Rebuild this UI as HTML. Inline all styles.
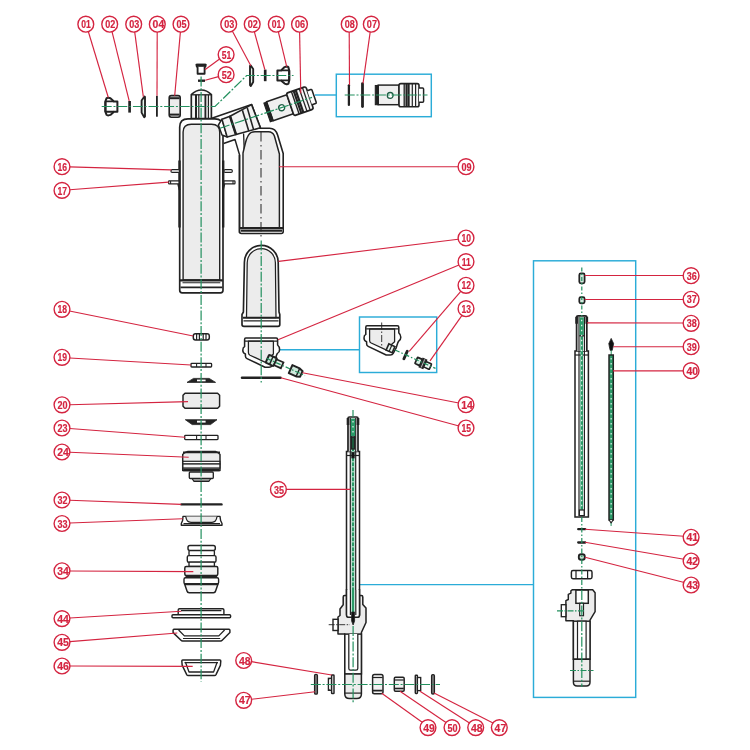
<!DOCTYPE html>
<html lang="en">
<head>
<meta charset="utf-8">
<title>Exploded parts diagram</title>
<style>
html,body{margin:0;padding:0;background:#fff;}
body{width:750px;height:750px;overflow:hidden;font-family:"Liberation Sans",sans-serif;}
svg{display:block;}
</style>
</head>
<body>
<svg width="750" height="750" viewBox="0 0 750 750" role="img" aria-label="Exploded parts diagram">
<rect x="0" y="0" width="750" height="750" fill="#ffffff"/>
<g id="cyan">
<rect x="336.3" y="74.2" width="95.0" height="42.5" rx="0" fill="none" stroke="#2bacd8" stroke-width="1.45" />
<line x1="315" y1="95" x2="336.3" y2="95" stroke="#2bacd8" stroke-width="1.45" />
<rect x="359.5" y="317" width="77.2" height="55.5" rx="0" fill="none" stroke="#2bacd8" stroke-width="1.45" />
<line x1="279.5" y1="349.7" x2="359.5" y2="349.7" stroke="#2bacd8" stroke-width="1.45" />
<rect x="533.5" y="260.8" width="102.2" height="436.6" rx="0" fill="none" stroke="#2bacd8" stroke-width="1.45" />
<line x1="357" y1="584.6" x2="533.5" y2="584.6" stroke="#2bacd8" stroke-width="1.45" />
</g>
<g id="tank">
<path d="M191.3,118.5 V94.6 Q196,90 201.4,90 Q206.8,90 211.4,94.6 V118.5 Z" fill="#f6f6f6" stroke="#222222" stroke-width="1.66" stroke-linejoin="round" />
<line x1="191.3" y1="94.8" x2="211.4" y2="94.8" stroke="#222222" stroke-width="1.33" />
<line x1="196" y1="94.8" x2="196" y2="118.5" stroke="#222222" stroke-width="2.0" />
<line x1="198.8" y1="94.8" x2="198.8" y2="118.5" stroke="#222222" stroke-width="1.2" />
<line x1="205.4" y1="94.8" x2="205.4" y2="118.5" stroke="#222222" stroke-width="1.86" />
<line x1="208.4" y1="94.8" x2="208.4" y2="118.5" stroke="#222222" stroke-width="1.2" />
<path d="M179.7,290.3 V127 Q179.7,118.8 188,118.8 H214.8 Q223,118.8 223,127 V290.3 Q223,292.9 220.5,292.9 H182.2 Q179.7,292.9 179.7,290.3 Z" fill="#ffffff" stroke="#222222" stroke-width="1.66" stroke-linejoin="round" />
<path d="M183.1,280 V132 Q183.1,124.2 191.3,124.2 H211.5 Q219.7,124.2 219.7,132 V280 Z" fill="#ececec" stroke="#222222" stroke-width="1.4" stroke-linejoin="round" />
<line x1="180" y1="280.4" x2="222.8" y2="280.4" stroke="#222222" stroke-width="2.13" />
<line x1="182.5" y1="282.8" x2="220.3" y2="282.8" stroke="#222222" stroke-width="1.06" />
<line x1="180.5" y1="287.4" x2="222.3" y2="287.4" stroke="#222222" stroke-width="1.86" />
<line x1="179.5" y1="160.5" x2="179.5" y2="227.5" stroke="#222222" stroke-width="2.39" />
<line x1="223.2" y1="160.5" x2="223.2" y2="227.5" stroke="#222222" stroke-width="2.39" />
<path d="M178,184 L179.6,190" fill="none" stroke="#222222" stroke-width="1.6" stroke-linejoin="round" />
<path d="M224.5,184 L223,190" fill="none" stroke="#222222" stroke-width="1.6" stroke-linejoin="round" />
<rect x="171" y="169.6" width="8.5" height="2.8" rx="1.2" fill="#fff" stroke="#222222" stroke-width="1.2" />
<rect x="168.6" y="180.9" width="10.4" height="3.0" rx="0.6" fill="#fff" stroke="#222222" stroke-width="1.2" />
<line x1="170.6" y1="180.9" x2="170.6" y2="183.9" stroke="#222222" stroke-width="1.06" />
<rect x="224" y="169.6" width="8.3" height="2.8" rx="1.2" fill="#fff" stroke="#222222" stroke-width="1.2" />
<rect x="224" y="180.9" width="11" height="3.0" rx="0.6" fill="#fff" stroke="#222222" stroke-width="1.2" />
<line x1="233" y1="180.9" x2="233" y2="183.9" stroke="#222222" stroke-width="1.06" />
</g>
<g id="bracket">
<path d="M211.8,118.2 L251.6,104.6 L260.4,127.8" fill="none" stroke="#222222" stroke-width="1.6" stroke-linejoin="round" />
<path d="M223.6,143.5 L235,139.5 L239.6,155 V233" fill="none" stroke="#222222" stroke-width="1.46" stroke-linejoin="round" />
<path d="M243.6,133.5 L244.2,149" fill="none" stroke="#222222" stroke-width="1.33" stroke-linejoin="round" />
</g>
<g id="tank09">
<path d="M239.4,155 V231.5 Q239.4,233.5 241.4,233.5 H281.2 Q283.2,233.5 283.2,231.5 V153.5 L277.6,135 Q275.6,128.2 269.5,128.2 H256 Q250,128.2 246.6,131.4" fill="none" stroke="#222222" stroke-width="1.6" stroke-linejoin="round" />
<path d="M243,228 V153 L245.4,143 Q247.6,134 251.4,132.4 Q252.8,131.8 255,131.8 H268.5 Q272.6,131.8 274.4,136 L279.4,154 V228 Z" fill="#ececec" stroke="#222222" stroke-width="1.46" stroke-linejoin="round" />
<line x1="240" y1="227.9" x2="283" y2="227.9" stroke="#222222" stroke-width="2.0" />
<line x1="241" y1="230.6" x2="282" y2="230.6" stroke="#222222" stroke-width="2.13" />
<line x1="261" y1="132" x2="261" y2="237.5" stroke="#222222" stroke-width="1" stroke-dasharray="9.5 3.5 1.5 3.5"/>
</g>
<g id="fitting">
<path d="M218.4,125 L222,119.2 L227.2,137 L222,135 Z" fill="#fff" stroke="#222222" stroke-width="1.46" stroke-linejoin="round" />
<path d="M222,119.2 L230,116.2 L236,134.6 L227.2,137 Z" fill="#f3f3f3" stroke="#222222" stroke-width="1.46" stroke-linejoin="round" />
<path d="M230,116.2 L251.6,104.6 L260.4,127.8 L236,134.6 Z" fill="#f3f3f3" stroke="#222222" stroke-width="1.6" stroke-linejoin="round" />
<line x1="230" y1="116.2" x2="236" y2="134.6" stroke="#222222" stroke-width="2.53" />
<line x1="242.4" y1="110.2" x2="248.8" y2="131" stroke="#222222" stroke-width="1.6" />
<line x1="247.2" y1="107.6" x2="253.6" y2="129.6" stroke="#222222" stroke-width="1.6" />
</g>
<g transform="translate(375,95.1) rotate(0) scale(1.0)">
<rect x="3.2" y="-10" width="20.8" height="19.6" rx="0" fill="#efefef" stroke="#222222" stroke-width="1.46" />
<rect x="0.3" y="-9.6" width="2.9" height="19.2" rx="0" fill="#222222" stroke="#222222" stroke-width="1.06" />
<rect x="24" y="-11.5" width="20" height="23.1" rx="1.8" fill="#f7f7f7" stroke="#222222" stroke-width="1.6" />
<line x1="29.2" y1="-11.5" x2="29.2" y2="11.6" stroke="#222222" stroke-width="1.33" />
<line x1="31.5" y1="-11.5" x2="31.5" y2="11.6" stroke="#222222" stroke-width="2.13" />
<line x1="33.6" y1="-11.5" x2="33.6" y2="11.6" stroke="#222222" stroke-width="2.13" />
<line x1="37.3" y1="-11.5" x2="37.3" y2="11.6" stroke="#222222" stroke-width="1.2" />
<line x1="40.6" y1="-11.5" x2="40.6" y2="11.6" stroke="#222222" stroke-width="1.2" />
<path d="M44,-7.2 H47.6 Q48.6,-7.2 48.6,-6.2 V6.2 Q48.6,7.2 47.6,7.2 H44" fill="#fff" stroke="#222222" stroke-width="1.46" stroke-linejoin="round" />
<circle cx="15.2" cy="0.3" r="2.9" fill="#fff" stroke="#1d5c43" stroke-width="1.3"/>
</g>
<g transform="translate(266.8,112.5) rotate(-19) scale(1.03)">
<rect x="3.2" y="-10" width="20.8" height="19.6" rx="0" fill="#efefef" stroke="#222222" stroke-width="1.46" />
<rect x="0.3" y="-9.6" width="2.9" height="19.2" rx="0" fill="#222222" stroke="#222222" stroke-width="1.06" />
<rect x="24" y="-11.5" width="20" height="23.1" rx="1.8" fill="#f7f7f7" stroke="#222222" stroke-width="1.6" />
<line x1="29.2" y1="-11.5" x2="29.2" y2="11.6" stroke="#222222" stroke-width="1.33" />
<line x1="31.5" y1="-11.5" x2="31.5" y2="11.6" stroke="#222222" stroke-width="2.13" />
<line x1="33.6" y1="-11.5" x2="33.6" y2="11.6" stroke="#222222" stroke-width="2.13" />
<line x1="37.3" y1="-11.5" x2="37.3" y2="11.6" stroke="#222222" stroke-width="1.2" />
<line x1="40.6" y1="-11.5" x2="40.6" y2="11.6" stroke="#222222" stroke-width="1.2" />
<path d="M44,-7.2 H47.6 Q48.6,-7.2 48.6,-6.2 V6.2 Q48.6,7.2 47.6,7.2 H44" fill="#fff" stroke="#222222" stroke-width="1.46" stroke-linejoin="round" />
<circle cx="15.2" cy="0.3" r="2.9" fill="#fff" stroke="#1d5c43" stroke-width="1.3"/>
</g>
<line x1="348.9" y1="85.3" x2="348.9" y2="104.9" stroke="#222222" stroke-width="2.26" stroke-linecap="round"/>
<line x1="362.5" y1="83.6" x2="362.5" y2="106.6" stroke="#222222" stroke-width="2.79" stroke-linecap="round"/>
<path d="M105.4,101.4 L106.6,98.2 Q107.2,97.6 108.4,97.7 L110.4,98.3 L114,101.4 H117.4 V111.8 H114 L110.4,114.9 L108.4,115.4 Q107.2,115.5 106.6,114.9 L105.4,111.8 Z" fill="#fff" stroke="#222222" stroke-width="2.0" stroke-linejoin="round" />
<path d="M105.4,101.4 H114 M105.4,111.8 H114" fill="none" stroke="#222222" stroke-width="1.86" stroke-linejoin="round" />
<line x1="105.4" y1="101.4" x2="105.4" y2="111.8" stroke="#222222" stroke-width="2.0" />
<line x1="129.6" y1="101" x2="129.6" y2="112.6" stroke="#222222" stroke-width="2.66" />
<path d="M144.4,96.4 L145,97 V116.6 L144.2,117.2 L141.6,112.6 V100.6 Z" fill="#e6f3ec" stroke="#222222" stroke-width="1.86" stroke-linejoin="round" />
<line x1="156.9" y1="95.8" x2="156.9" y2="116.7" stroke="#222222" stroke-width="1.86" />
<rect x="169.2" y="95.6" width="11.0" height="21.6" rx="2.2" fill="#ececec" stroke="#222222" stroke-width="1.6" />
<line x1="169.8" y1="98.2" x2="179.6" y2="98.2" stroke="#222222" stroke-width="2.0" />
<line x1="169.8" y1="114.6" x2="179.6" y2="114.6" stroke="#222222" stroke-width="2.0" />
<path d="M250.6,65.4 L250,66 V85.2 L250.8,86 L253.2,82 V69 Z" fill="#e6f3ec" stroke="#222222" stroke-width="1.86" stroke-linejoin="round" />
<line x1="265.2" y1="69.6" x2="265.2" y2="81.2" stroke="#222222" stroke-width="2.66" />
<path d="M289.2,70.4 L288.4,67.2 Q287.8,66.4 286.6,66.5 L284.6,67.1 L281,70.4 H277.4 V80.4 H281 L284.6,83.6 L286.6,84.3 Q287.8,84.4 288.4,83.7 L289.2,80.4 Z" fill="#fff" stroke="#222222" stroke-width="2.0" stroke-linejoin="round" />
<path d="M289.2,70.4 H281 M289.2,80.4 H281" fill="none" stroke="#222222" stroke-width="1.86" stroke-linejoin="round" />
<line x1="289.2" y1="70.4" x2="289.2" y2="80.4" stroke="#222222" stroke-width="2.0" />
<path d="M196.4,64.6 H205.8 L205.4,66.6 L204.6,67.4 V73.8 H197.6 V67.4 L196.8,66.6 Z" fill="#fff" stroke="#222222" stroke-width="1.86" stroke-linejoin="round" />
<line x1="196.6" y1="65.3" x2="205.6" y2="65.3" stroke="#222222" stroke-width="3.06" />
<line x1="198" y1="80.7" x2="205" y2="80.7" stroke="#222222" stroke-width="2.39" />
<g id="p10">
<path d="M242,324.5 Q242,326.4 244,326.4 H278 Q279.8,326.4 279.8,324.5 V314.5 L279,312 L278.2,262.3 A16.9,16.9 0 0 0 244.4,262.3 L243.4,312 L242,314.5 Z" fill="#fff" stroke="#222222" stroke-width="1.66" stroke-linejoin="round" />
<path d="M246.5,317.6 L247.2,262.8 A14.1,14.2 0 0 1 275.4,262.8 L276,317.6 Z" fill="#ececec" stroke="#222222" stroke-width="1.26" stroke-linejoin="round" />
<line x1="243" y1="317.8" x2="279" y2="317.8" stroke="#222222" stroke-width="2.0" />
<line x1="243.5" y1="320.8" x2="278.5" y2="320.8" stroke="#222222" stroke-width="1.33" />
</g>
<g transform="translate(244.4,338) scale(1.0)">
<path d="M1.4,0 H31.8 Q33.2,0 33.2,1.4 V7 Q35.2,8.6 35.2,11.5 Q35.2,14.4 33,15.4 L32.2,17 L30.6,22 L27.6,27.6 Q26.8,29.2 24.6,29.2 H20.6 L2.6,20.6 Q1,19.8 1,18 V16 Q-1.6,15 -1.6,12.2 Q-1.6,9.4 0.2,8.6 V1.4 Q0.2,0 1.4,0 Z" fill="#fff" stroke="#222222" stroke-width="1.53" stroke-linejoin="round" />
<path d="M4,3.2 H29 V16 L25,19.5 L21.5,24.6 L5.6,17.2 Q4,16.4 4,14.6 Z" fill="#ececec" stroke="#222222" stroke-width="1.26" stroke-linejoin="round" />
<line x1="0.6" y1="3.1" x2="32.8" y2="3.1" stroke="#222222" stroke-width="1.33" />
</g>
<g transform="translate(267.4,358.7) rotate(24.2)">
<rect x="0" y="-4.3" width="8.6" height="8.6" rx="0.8" fill="#cfe9dc" stroke="#222222" stroke-width="2.0" />
<line x1="4.3" y1="-4.3" x2="4.3" y2="4.3" stroke="#222222" stroke-width="1.46" />
<rect x="8.6" y="-3.2" width="7.6" height="6.4" rx="0" fill="#e6f3ec" stroke="#222222" stroke-width="1.73" />
</g>
<g transform="translate(290.6,369.1) rotate(24.2)">
<path d="M0,-4.4 H8 L11.8,-3 V3 L8,4.4 H0 Z" fill="#cfe9dc" stroke="#222222" stroke-width="2.0" stroke-linejoin="round" />
<line x1="8" y1="-4.4" x2="8" y2="4.4" stroke="#222222" stroke-width="1.33" />
</g>
<line x1="242" y1="377.8" x2="280.5" y2="377.8" stroke="#222222" stroke-width="2.53" stroke-linecap="round"/>
<g transform="translate(365.6,325.8) scale(1.0)">
<path d="M1.4,0 H31.8 Q33.2,0 33.2,1.4 V7 Q35.2,8.6 35.2,11.5 Q35.2,14.4 33,15.4 L32.2,17 L30.6,22 L27.6,27.6 Q26.8,29.2 24.6,29.2 H20.6 L2.6,20.6 Q1,19.8 1,18 V16 Q-1.6,15 -1.6,12.2 Q-1.6,9.4 0.2,8.6 V1.4 Q0.2,0 1.4,0 Z" fill="#fff" stroke="#222222" stroke-width="1.53" stroke-linejoin="round" />
<path d="M4,3.2 H29 V16 L25,19.5 L21.5,24.6 L5.6,17.2 Q4,16.4 4,14.6 Z" fill="#ececec" stroke="#222222" stroke-width="1.26" stroke-linejoin="round" />
<line x1="0.6" y1="3.1" x2="32.8" y2="3.1" stroke="#222222" stroke-width="1.33" />
</g>
<g transform="translate(387.5,347) rotate(24)">
<rect x="0" y="-3.4" width="6.6" height="6.8" rx="0" fill="#eaf5ef" stroke="#222222" stroke-width="1.6" />
<line x1="3.2" y1="-3.4" x2="3.2" y2="3.4" stroke="#222222" stroke-width="1.2" />
</g>
<line x1="381.7" y1="322.5" x2="381.7" y2="346" stroke="#222222" stroke-width="0.9" stroke-dasharray="7 2 1.5 2"/>
<g transform="translate(405.6,355) rotate(24)">
<line x1="0" y1="-4.1" x2="0" y2="4.1" stroke="#222222" stroke-width="2.93" stroke-linecap="round"/>
</g>
<g transform="translate(416.2,360.4) rotate(24)">
<rect x="0" y="-3.4" width="5.4" height="6.8" rx="0.8" fill="#d9efe4" stroke="#222222" stroke-width="1.73" />
<rect x="5.4" y="-4.6" width="4.0" height="9.2" rx="0" fill="#333" stroke="#222222" stroke-width="1.33" />
<line x1="7.4" y1="-4.6" x2="7.4" y2="4.6" stroke="#ddd" stroke-width="0.7" />
<rect x="9.4" y="-2.9" width="6.2" height="5.8" rx="0.6" fill="#eaf5ef" stroke="#222222" stroke-width="1.6" />
</g>
<g id="stack">
<rect x="193.3" y="333.7" width="16.0" height="6.3" rx="2.2" fill="#fff" stroke="#222222" stroke-width="1.46" />
<line x1="196.6" y1="333.7" x2="196.6" y2="340" stroke="#222222" stroke-width="1.2" />
<line x1="199.4" y1="333.7" x2="199.4" y2="340" stroke="#222222" stroke-width="1.2" />
<line x1="203.2" y1="333.7" x2="203.2" y2="340" stroke="#222222" stroke-width="1.2" />
<line x1="206" y1="333.7" x2="206" y2="340" stroke="#222222" stroke-width="1.2" />
<rect x="191" y="363.4" width="20.6" height="3.6" rx="0.8" fill="#fff" stroke="#222222" stroke-width="1.33" />
<line x1="196.6" y1="363.4" x2="196.6" y2="367" stroke="#222222" stroke-width="1.06" />
<line x1="206" y1="363.4" x2="206" y2="367" stroke="#222222" stroke-width="1.06" />
<path d="M187,382.4 L193.5,378.4 H209.2 L215.6,382.4 Z" fill="#222222" stroke="#222222" stroke-width="0.8" stroke-linejoin="round" />
<rect x="197" y="379.6" width="8.6" height="1.7" rx="0" fill="#fff" stroke="none" stroke-width="1" />
<path d="M185,393.3 H217.6 L219.6,395.3 V406.3 L217.6,408.3 H185 L183,406.3 V395.3 Z" fill="#ececec" stroke="#222222" stroke-width="1.46" stroke-linejoin="round" />
<path d="M185.3,419.7 H217 L210.5,424.6 H192.2 Z" fill="#222222" stroke="#222222" stroke-width="0.8" stroke-linejoin="round" />
<rect x="197" y="420.7" width="8.6" height="1.9" rx="0" fill="#fff" stroke="none" stroke-width="1" />
<rect x="184.7" y="435.4" width="33.3" height="4.2" rx="0.8" fill="#fff" stroke="#222222" stroke-width="1.33" />
<line x1="196.6" y1="435.4" x2="196.6" y2="439.6" stroke="#222222" stroke-width="1.06" />
<line x1="206" y1="435.4" x2="206" y2="439.6" stroke="#222222" stroke-width="1.06" />
<path d="M182.7,470.5 V454.5 L184.5,452.8 L188,451.4 H215.3 L218.4,452.8 L220,454.5 V470.5 Z" fill="#ececec" stroke="#222222" stroke-width="1.46" stroke-linejoin="round" />
<line x1="183" y1="452.4" x2="220" y2="452.4" stroke="#222222" stroke-width="1.6" />
<rect x="182.9" y="461.3" width="37.0" height="2.7" rx="0" fill="#fff" stroke="#222222" stroke-width="1.2" />
<rect x="182.9" y="464" width="37.0" height="4" rx="0" fill="#f6f6f6" stroke="#222222" stroke-width="1.2" />
<line x1="183.2" y1="469.9" x2="219.5" y2="469.9" stroke="#222222" stroke-width="2.79" />
<rect x="189.3" y="472" width="24.0" height="6.5" rx="1" fill="#f4f4f4" stroke="#222222" stroke-width="1.33" />
<path d="M192,478.5 H210.8 L209,481.3 H194 Z" fill="#999" stroke="#222222" stroke-width="1.2" stroke-linejoin="round" />
<line x1="181.5" y1="504.4" x2="221.5" y2="504.4" stroke="#222222" stroke-width="2.39" stroke-linecap="round"/>
<path d="M183,516.4 H220 L220.6,520.5 L222,523.5 V525.3 H181.3 V523.5 L182.6,520.5 Z" fill="#fff" stroke="#222222" stroke-width="1.4" stroke-linejoin="round" />
<path d="M185.8,516.6 Q186.5,522.3 191,522.3 H212 Q216.2,522.3 217,516.6" fill="#ececec" stroke="#222222" stroke-width="1.2" stroke-linejoin="round" />
<line x1="183.5" y1="523.6" x2="220" y2="523.6" stroke="#222222" stroke-width="1.06" />
<rect x="188" y="545.6" width="27.3" height="5.0" rx="2" fill="#fff" stroke="#222222" stroke-width="1.46" />
<rect x="189" y="550.6" width="25.4" height="5.0" rx="1" fill="#fff" stroke="#222222" stroke-width="1.33" />
<rect x="187.3" y="555.6" width="28.7" height="6.6" rx="1.5" fill="#fff" stroke="#222222" stroke-width="1.4" />
<rect x="189" y="562.2" width="25.4" height="4.3" rx="0.8" fill="#fff" stroke="#222222" stroke-width="1.33" />
<rect x="184.8" y="566.5" width="33.0" height="9.0" rx="1.5" fill="#f1f1f1" stroke="#222222" stroke-width="1.46" />
<line x1="185.5" y1="576.6" x2="217.2" y2="576.6" stroke="#222222" stroke-width="2.0" />
<rect x="184" y="577.8" width="34.6" height="6.2" rx="1.5" fill="#fff" stroke="#222222" stroke-width="1.4" />
<path d="M184.6,584 H218 L215.6,591 Q215.2,592.7 213.5,592.7 H189.2 Q187.4,592.7 187,591 Z" fill="#f6f6f6" stroke="#222222" stroke-width="1.46" stroke-linejoin="round" />
<line x1="185" y1="584.3" x2="217.6" y2="584.3" stroke="#222222" stroke-width="1.86" />
<path d="M178.2,614.7 V610 Q178.2,608.7 179.5,608.7 H222.6 Q223.9,608.7 223.9,610 V614.7" fill="#fff" stroke="#222222" stroke-width="1.4" stroke-linejoin="round" />
<line x1="181" y1="610.6" x2="221.4" y2="610.6" stroke="#222222" stroke-width="1.06" />
<rect x="172" y="614.7" width="58.6" height="3.0" rx="1" fill="#fff" stroke="#222222" stroke-width="1.46" />
<path d="M174,629.3 H229 Q229.9,629.3 229.9,630.2 V632.6 L222.2,640.2 Q221.6,640.9 220.6,640.9 H182.6 Q181.6,640.9 181,640.2 L173.1,632.6 V630.2 Q173.1,629.3 174,629.3 Z" fill="#fff" stroke="#222222" stroke-width="1.46" stroke-linejoin="round" />
<path d="M178.6,630 L184.4,635.9 H218.8 L224.6,630" fill="none" stroke="#222222" stroke-width="1.26" stroke-linejoin="round" />
<line x1="183" y1="638.5" x2="220.2" y2="638.5" stroke="#222222" stroke-width="1.2" />
<path d="M182.7,660 H219.9 Q220.8,660 220.8,660.9 L220.4,665.4 L216,674.6 Q215.5,675.5 214.5,675.5 H188.2 Q187.2,675.5 186.7,674.6 L182.2,665.4 L181.8,660.9 Q181.8,660 182.7,660 Z" fill="#fff" stroke="#222222" stroke-width="1.46" stroke-linejoin="round" />
<path d="M185.4,662 L189,672 H213.6 L217.2,662" fill="none" stroke="#222222" stroke-width="1.26" stroke-linejoin="round" />
<line x1="184.5" y1="662.6" x2="218" y2="662.6" stroke="#222222" stroke-width="1.2" />
</g>
<g id="rod35">
<rect x="346.5" y="451.5" width="13.0" height="163.5" rx="0" fill="#fff" stroke="#222222" stroke-width="1.53" />
<line x1="346.5" y1="455.5" x2="359.5" y2="455.5" stroke="#222222" stroke-width="1.2" />
<path d="M348.0,451.5 V418.5 Q348.0,417 349.5,417 H356.5 Q358.0,417 358.0,418.5 V451.5" fill="#fff" stroke="#222222" stroke-width="1.73" stroke-linejoin="round" />
<path d="M348.0,418 V425 M358.0,418 V425" fill="none" stroke="#222222" stroke-width="2.66" stroke-linejoin="round" />
<line x1="350.3" y1="418" x2="350.3" y2="614" stroke="#222222" stroke-width="1.2" />
<line x1="355.7" y1="418" x2="355.7" y2="614" stroke="#222222" stroke-width="1.2" />
<line x1="353" y1="418.5" x2="353" y2="437" stroke="#2a9a68" stroke-width="4.2" />
<line x1="353" y1="437" x2="353" y2="613" stroke="#2a9a68" stroke-width="2.6" />
<line x1="350.6" y1="437" x2="355.4" y2="437" stroke="#222222" stroke-width="1.33" />
<line x1="353" y1="421" x2="353" y2="612" stroke="#fff" stroke-width="1.1" stroke-dasharray="1.5 3.5"/>
<rect x="351.6" y="437" width="2.8" height="12" rx="0" fill="#1a6a45" stroke="#222222" stroke-width="1.33" />
<rect x="351.8" y="452.5" width="2.4" height="5.5" rx="0" fill="#111" stroke="#222222" stroke-width="0.8" />
</g>
<path d="M343.2,597.0 Q343.2,595.5 344.6,595.5 H346.6 V614.5 Q346.6,617.3 348.6,617.3 H357.6 Q359.6,617.3 359.6,614.5 V595.5 H361.4 Q362.8,595.5 362.8,597.0 V604.5 L366.0,608.0 V622.5 L361.4,632.5 V674.0 H344.8 V633.9 H338.0 V620.0 L338.0,617.0 L340.0,615.5 V609.0 L343.2,604.7 Z" fill="#ececec" stroke="#222222" stroke-width="1.53" stroke-linejoin="round" />
<rect x="344.8" y="634.1" width="16.6" height="39.9" rx="0" fill="#fdfdfd" stroke="#222222" stroke-width="1.53" />
<path d="M348.8,634.1 V668.5 Q348.8,670.1 350.4,670.1 H356.0 Q357.8,670.1 357.8,668.5 V634.1" fill="#fff" stroke="#222222" stroke-width="1.26" stroke-linejoin="round" />
<rect x="333.0" y="619.3" width="5.0" height="11.2" rx="0" fill="#fff" stroke="#222222" stroke-width="1.4" />
<path d="M344.8,674.0 H361.4 V694.0 Q361.4,698.5 356.8,698.5 H349.4 Q344.8,698.5 344.8,694.0 Z" fill="#ececec" stroke="#222222" stroke-width="1.53" stroke-linejoin="round" />
<line x1="344.8" y1="693.1" x2="361.4" y2="693.1" stroke="#222222" stroke-width="1.2" />
<rect x="346.5" y="590" width="13.0" height="25" rx="0" fill="#fff" stroke="none" stroke-width="1" />
<line x1="346.5" y1="589" x2="346.5" y2="615" stroke="#222222" stroke-width="1.53" />
<line x1="359.5" y1="589" x2="359.5" y2="615" stroke="#222222" stroke-width="1.53" />
<path d="M346.5,615 Q346.5,617.3 348.8,617.3 H357.2 Q359.5,617.3 359.5,615" fill="#fff" stroke="#222222" stroke-width="1.53" stroke-linejoin="round" />
<line x1="350.4" y1="590" x2="350.4" y2="615" stroke="#222222" stroke-width="1.2" />
<line x1="355.8" y1="590" x2="355.8" y2="615" stroke="#222222" stroke-width="1.2" />
<line x1="353" y1="590" x2="353" y2="612" stroke="#2a9a68" stroke-width="2.6" />
<path d="M351.6,612 H354.6 V621 L353.1,625 L351.6,621 Z" fill="#111" stroke="#222222" stroke-width="0.8" stroke-linejoin="round" />
<line x1="328.7" y1="624.7" x2="350" y2="624.7" stroke="#222222" stroke-width="0.9" stroke-dasharray="6 1.5 1.5 1.5"/>
<rect x="314.6" y="674.3" width="2.8" height="19.9" rx="1.2" fill="#888" stroke="#222222" stroke-width="1.33" />
<rect x="431.6" y="674.6" width="2.8" height="19.4" rx="1.2" fill="#888" stroke="#222222" stroke-width="1.33" />
<rect x="328.4" y="678.3" width="3.2" height="12.0" rx="0" fill="#fff" stroke="#222222" stroke-width="1.33" />
<rect x="331.6" y="675" width="2.4" height="18.5" rx="0.6" fill="#fff" stroke="#222222" stroke-width="1.46" />
<path d="M328.4,680 L329.4,678.3 M328.4,688.6 L329.4,690.3" fill="none" stroke="#222222" stroke-width="1.06" stroke-linejoin="round" />
<rect x="415.3" y="675.2" width="2.1" height="18.2" rx="0.6" fill="#fff" stroke="#222222" stroke-width="1.46" />
<rect x="417.4" y="677.5" width="3.3" height="13.1" rx="0" fill="#fff" stroke="#222222" stroke-width="1.33" />
<rect x="372.6" y="674.6" width="10.4" height="19.1" rx="1.8" fill="#f2f2f2" stroke="#222222" stroke-width="1.46" />
<line x1="373" y1="677.5" x2="382.6" y2="677.5" stroke="#222222" stroke-width="1.2" />
<line x1="373" y1="690.6" x2="382.6" y2="690.6" stroke="#222222" stroke-width="1.73" />
<rect x="394.3" y="677.2" width="9.9" height="14.1" rx="1.2" fill="#f2f2f2" stroke="#222222" stroke-width="1.46" />
<line x1="394.6" y1="680" x2="403.8" y2="680" stroke="#222222" stroke-width="1.2" />
<line x1="394.6" y1="688.5" x2="403.8" y2="688.5" stroke="#222222" stroke-width="1.6" />
<g id="box3">
<rect x="579.3" y="273.4" width="5.3" height="9.9" rx="1.6" fill="#cfeadd" stroke="#222222" stroke-width="1.73" />
<rect x="579.3" y="297.2" width="5.3" height="6.1" rx="1.6" fill="#cfeadd" stroke="#222222" stroke-width="1.73" />
<rect x="575.0" y="351" width="13.4" height="166" rx="0" fill="#fff" stroke="#222222" stroke-width="1.53" />
<line x1="575.0" y1="355" x2="588.4000000000001" y2="355" stroke="#222222" stroke-width="1.2" />
<path d="M576.6,351 V317.3 Q576.6,315.8 578.1,315.8 H585.3 Q586.8,315.8 586.8,317.3 V351" fill="#fff" stroke="#222222" stroke-width="1.73" stroke-linejoin="round" />
<path d="M576.6,316.8 V323.8 M586.8,316.8 V323.8" fill="none" stroke="#222222" stroke-width="2.66" stroke-linejoin="round" />
<line x1="579.0" y1="316.8" x2="579.0" y2="516" stroke="#222222" stroke-width="1.2" />
<line x1="584.4000000000001" y1="316.8" x2="584.4000000000001" y2="516" stroke="#222222" stroke-width="1.2" />
<line x1="581.7" y1="317.3" x2="581.7" y2="335.8" stroke="#2a9a68" stroke-width="4.2" />
<line x1="581.7" y1="335.8" x2="581.7" y2="515" stroke="#2a9a68" stroke-width="2.6" />
<line x1="579.3000000000001" y1="335.8" x2="584.1" y2="335.8" stroke="#222222" stroke-width="1.33" />
<line x1="581.7" y1="319.8" x2="581.7" y2="514" stroke="#fff" stroke-width="1.1" stroke-dasharray="1.5 3.5"/>
<rect x="579.4" y="510" width="4.8" height="5.6" rx="0" fill="#fff" stroke="#222222" stroke-width="1.2" />
<path d="M611.2,338.4 L613.6,343.6 L613,347 L612.2,350.4 H610.2 L609.4,347 L608.8,343.6 Z" fill="#111" stroke="#222222" stroke-width="0.8" stroke-linejoin="round" />
<line x1="611.2" y1="350.4" x2="611.2" y2="355" stroke="#22905e" stroke-width="1" />
<rect x="609" y="355" width="4.3" height="165" rx="0" fill="#2a9a68" stroke="#222222" stroke-width="1.46" />
<line x1="611.15" y1="358" x2="611.15" y2="518" stroke="#fff" stroke-width="1" stroke-dasharray="1.5 3.5"/>
<path d="M609.2,520 L611.1,523 L613,520" fill="#fff" stroke="#222222" stroke-width="1.2" stroke-linejoin="round" />
<line x1="611.1" y1="523" x2="611.1" y2="526" stroke="#22905e" stroke-width="1" />
<line x1="578.2" y1="529.2" x2="585.2" y2="529.2" stroke="#222222" stroke-width="2.26" stroke-linecap="round"/>
<line x1="578.2" y1="542.5" x2="585.2" y2="542.5" stroke="#222222" stroke-width="2.26" stroke-linecap="round"/>
<rect x="578.8" y="554.3" width="6.0" height="5.5" rx="2.4" fill="#bfe3d0" stroke="#222222" stroke-width="1.86" />
<rect x="571.4" y="570.6" width="20.6" height="8.1" rx="1.6" fill="#fff" stroke="#222222" stroke-width="1.46" />
<line x1="576" y1="570.6" x2="576" y2="578.7" stroke="#222222" stroke-width="1.2" />
<line x1="587.6" y1="570.6" x2="587.6" y2="578.7" stroke="#222222" stroke-width="1.2" />
<path d="M572.5,589.7 H592.7 L595.1,592.7 V611.7 L590.0,620.2 V659.2 H573.4 V620.7 H565.9 V600.7 L568.3,599.5 V594.3 L570.9,593.1 V590.9 Z" fill="#ececec" stroke="#222222" stroke-width="1.46" stroke-linejoin="round" />
<rect x="575.9" y="590.1" width="12.4" height="13.2" rx="0" fill="#fff" stroke="#222222" stroke-width="1.46" />
<rect x="579.7" y="603.3" width="3.8" height="12.4" rx="0" fill="#fff" stroke="#222222" stroke-width="1.2" />
<rect x="573.4" y="621.2" width="16.6" height="38.0" rx="0" fill="#fbfbfb" stroke="#222222" stroke-width="1.46" />
<rect x="577.5" y="621.2" width="8.6" height="38.0" rx="0" fill="#fff" stroke="#222222" stroke-width="1.2" />
<rect x="561.3" y="604.7" width="4.6" height="12.0" rx="0" fill="#fff" stroke="#222222" stroke-width="1.33" />
<path d="M573.4,659.2 H590.0 V682.2 Q590.0,685.9 586.3,685.9 H577.1 Q573.4,685.9 573.4,682.2 Z" fill="#ececec" stroke="#222222" stroke-width="1.46" stroke-linejoin="round" />
<line x1="573.4" y1="681.2" x2="590.0" y2="681.2" stroke="#222222" stroke-width="1.2" />
</g>
<g id="axes" fill="none">
<line x1="201.1" y1="76.5" x2="201.1" y2="681.5" stroke="#22905e" stroke-width="1.2" stroke-dasharray="10 1.8 2 1.8"/>
<polyline points="101.7,106.5 215,106.5 246.7,75.5 293.5,75.5" stroke="#22905e" stroke-width="1.2" stroke-dasharray="10 1.8 2 1.8" fill="none"/>
<line x1="220" y1="128.2" x2="312" y2="97.4" stroke="#22905e" stroke-width="1.2" stroke-dasharray="10 1.8 2 1.8"/>
<line x1="344.7" y1="95" x2="427.5" y2="95" stroke="#22905e" stroke-width="1.2" stroke-dasharray="10 1.8 2 1.8"/>
<line x1="261.2" y1="240.5" x2="261.2" y2="382.5" stroke="#22905e" stroke-width="1.2" stroke-dasharray="10 1.8 2 1.8"/>
<line x1="266.5" y1="358.3" x2="305" y2="375.6" stroke="#22905e" stroke-width="1.2" stroke-dasharray="5 2 1.5 2"/>
<line x1="395" y1="350" x2="435.5" y2="368.4" stroke="#22905e" stroke-width="1.2" stroke-dasharray="5 2 1.5 2"/>
<line x1="353" y1="410" x2="353" y2="417" stroke="#22905e" stroke-width="1.2" stroke-dasharray=""/>
<line x1="353.1" y1="626" x2="353.1" y2="702.5" stroke="#22905e" stroke-width="1.2" stroke-dasharray="10 1.8 2 1.8"/>
<line x1="310.8" y1="684.5" x2="440" y2="684.5" stroke="#22905e" stroke-width="1.2" stroke-dasharray="10 1.8 2 1.8"/>
<line x1="581.8" y1="267.5" x2="581.8" y2="316" stroke="#22905e" stroke-width="1.2" stroke-dasharray="4 2 1.5 2"/>
<line x1="581.8" y1="517" x2="581.8" y2="590" stroke="#22905e" stroke-width="1.2" stroke-dasharray="5 2 1.5 2"/>
<line x1="581.8" y1="590" x2="581.8" y2="687" stroke="#22905e" stroke-width="1.2" stroke-dasharray="10 1.8 2 1.8"/>
<line x1="557" y1="610.8" x2="584.5" y2="610.8" stroke="#22905e" stroke-width="1.2" stroke-dasharray="6 1.5 1.5 1.5"/>
<line x1="570" y1="670.5" x2="593.5" y2="670.5" stroke="#22905e" stroke-width="1.2" stroke-dasharray="6 1.5 1.5 1.5"/>
</g>
<g id="leaders" stroke="#d42440" stroke-width="1.15" fill="none">
<line x1="88.3" y1="31.5" x2="108.3" y2="97.5"/>
<line x1="112" y1="31.6" x2="129.2" y2="100.8"/>
<line x1="134.7" y1="31.8" x2="143.3" y2="96.7"/>
<line x1="157.2" y1="31.9" x2="157" y2="95.8"/>
<line x1="180.4" y1="31.9" x2="174.7" y2="95.8"/>
<line x1="232.3" y1="31" x2="250.8" y2="65.8"/>
<line x1="254.3" y1="31.6" x2="264.8" y2="69.5"/>
<line x1="278.3" y1="31.6" x2="286.7" y2="66.7"/>
<line x1="299.6" y1="31.9" x2="300.8" y2="93.3"/>
<line x1="349.2" y1="31.9" x2="349.5" y2="85"/>
<line x1="370.2" y1="31.8" x2="363" y2="83.3"/>
<line x1="219.6" y1="59" x2="204.9" y2="69.8"/>
<line x1="218.5" y1="76.6" x2="205.2" y2="80.3"/>
<line x1="69.7" y1="166.9" x2="171.3" y2="169.9"/>
<line x1="69.7" y1="189.8" x2="168.7" y2="182.1"/>
<line x1="69.5" y1="311" x2="193.2" y2="336"/>
<line x1="69.7" y1="358" x2="191" y2="365"/>
<line x1="69.7" y1="404.7" x2="188" y2="401.6"/>
<line x1="69.7" y1="428.5" x2="185" y2="437.3"/>
<line x1="69.7" y1="452.3" x2="188.7" y2="457.3"/>
<line x1="69.7" y1="500.3" x2="181.3" y2="504.4"/>
<line x1="69.7" y1="523" x2="182.7" y2="518.7"/>
<line x1="69.7" y1="571" x2="193.3" y2="571.6"/>
<line x1="69.8" y1="618" x2="181.3" y2="611.3"/>
<line x1="69.8" y1="641.6" x2="177.3" y2="633"/>
<line x1="69.7" y1="666" x2="192.7" y2="666.4"/>
<line x1="279" y1="166.7" x2="458.3" y2="166.7"/>
<line x1="278.6" y1="261.4" x2="458.2" y2="239.2"/>
<line x1="278" y1="339.7" x2="459" y2="265"/>
<line x1="409.2" y1="351.3" x2="461" y2="291.2"/>
<line x1="430" y1="360.8" x2="462" y2="315.3"/>
<line x1="302.5" y1="372.8" x2="458.8" y2="403"/>
<line x1="280.8" y1="377.8" x2="459" y2="426"/>
<line x1="286.1" y1="489.4" x2="351" y2="489.4"/>
<line x1="584.7" y1="275.5" x2="683.3" y2="275.5"/>
<line x1="584.7" y1="299.5" x2="683.3" y2="299.5"/>
<line x1="587" y1="322.8" x2="683.3" y2="323"/>
<line x1="613.3" y1="346.7" x2="683.3" y2="346.7"/>
<line x1="613" y1="370.8" x2="683.3" y2="370.8"/>
<line x1="585" y1="529.3" x2="683.9" y2="536.2"/>
<line x1="585" y1="542.3" x2="684" y2="559.3"/>
<line x1="585" y1="557.3" x2="684.3" y2="582.5"/>
<line x1="251.3" y1="661.6" x2="331.7" y2="675"/>
<line x1="251.4" y1="699.3" x2="315" y2="691.7"/>
<line x1="381.7" y1="693.3" x2="422.2" y2="722.3"/>
<line x1="400" y1="691.3" x2="446" y2="722.6"/>
<line x1="420" y1="691.3" x2="469.5" y2="723"/>
<line x1="434" y1="693" x2="493" y2="723"/>
</g>
<g id="callouts" font-family="'Liberation Sans', sans-serif" font-size="11.6" font-weight="bold" opacity="0.999" fill="#d42440" text-anchor="middle">
<circle cx="85.8" cy="24.2" r="7.9" fill="#fff" stroke="#d42440" stroke-width="1.4"/>
<text transform="translate(86.1,28.35) scale(0.74,1)" x="0" y="0" stroke="#d42440" stroke-width="0.2">01</text>
<circle cx="109.7" cy="24.2" r="7.9" fill="#fff" stroke="#d42440" stroke-width="1.4"/>
<text transform="translate(110.3,28.35) scale(0.78,1)" x="0" y="0" stroke="#d42440" stroke-width="0.2">02</text>
<circle cx="133.7" cy="24.2" r="7.9" fill="#fff" stroke="#d42440" stroke-width="1.4"/>
<text transform="translate(134.3,28.35) scale(0.78,1)" x="0" y="0" stroke="#d42440" stroke-width="0.2">03</text>
<circle cx="157.3" cy="24.2" r="7.9" fill="#fff" stroke="#d42440" stroke-width="1.4"/>
<text transform="translate(158.4,28.35) scale(0.9,1)" x="0" y="0" stroke="#d42440" stroke-width="0.2">04</text>
<circle cx="181" cy="24.2" r="7.9" fill="#fff" stroke="#d42440" stroke-width="1.4"/>
<text transform="translate(181.6,28.35) scale(0.78,1)" x="0" y="0" stroke="#d42440" stroke-width="0.2">05</text>
<circle cx="228.7" cy="24.2" r="7.9" fill="#fff" stroke="#d42440" stroke-width="1.4"/>
<text transform="translate(229.3,28.35) scale(0.78,1)" x="0" y="0" stroke="#d42440" stroke-width="0.2">03</text>
<circle cx="252.2" cy="24.2" r="7.9" fill="#fff" stroke="#d42440" stroke-width="1.4"/>
<text transform="translate(252.8,28.35) scale(0.78,1)" x="0" y="0" stroke="#d42440" stroke-width="0.2">02</text>
<circle cx="276.3" cy="24.2" r="7.9" fill="#fff" stroke="#d42440" stroke-width="1.4"/>
<text transform="translate(276.6,28.35) scale(0.74,1)" x="0" y="0" stroke="#d42440" stroke-width="0.2">01</text>
<circle cx="299.5" cy="24.2" r="7.9" fill="#fff" stroke="#d42440" stroke-width="1.4"/>
<text transform="translate(300.1,28.35) scale(0.78,1)" x="0" y="0" stroke="#d42440" stroke-width="0.2">06</text>
<circle cx="349.2" cy="24.2" r="7.9" fill="#fff" stroke="#d42440" stroke-width="1.4"/>
<text transform="translate(349.8,28.35) scale(0.78,1)" x="0" y="0" stroke="#d42440" stroke-width="0.2">08</text>
<circle cx="371.3" cy="24.2" r="7.9" fill="#fff" stroke="#d42440" stroke-width="1.4"/>
<text transform="translate(371.9,28.35) scale(0.78,1)" x="0" y="0" stroke="#d42440" stroke-width="0.2">07</text>
<circle cx="226.1" cy="54.6" r="7.9" fill="#fff" stroke="#d42440" stroke-width="1.4"/>
<text transform="translate(226.4,58.75) scale(0.74,1)" x="0" y="0" stroke="#d42440" stroke-width="0.2">51</text>
<circle cx="226.1" cy="74.7" r="7.9" fill="#fff" stroke="#d42440" stroke-width="1.4"/>
<text transform="translate(226.7,78.85) scale(0.78,1)" x="0" y="0" stroke="#d42440" stroke-width="0.2">52</text>
<circle cx="62" cy="166.7" r="7.9" fill="#fff" stroke="#d42440" stroke-width="1.4"/>
<text transform="translate(62.3,170.85) scale(0.74,1)" x="0" y="0" stroke="#d42440" stroke-width="0.2">16</text>
<circle cx="62" cy="190.4" r="7.9" fill="#fff" stroke="#d42440" stroke-width="1.4"/>
<text transform="translate(62.3,194.55) scale(0.74,1)" x="0" y="0" stroke="#d42440" stroke-width="0.2">17</text>
<circle cx="62" cy="309.3" r="7.9" fill="#fff" stroke="#d42440" stroke-width="1.4"/>
<text transform="translate(62.3,313.45) scale(0.74,1)" x="0" y="0" stroke="#d42440" stroke-width="0.2">18</text>
<circle cx="62" cy="357.3" r="7.9" fill="#fff" stroke="#d42440" stroke-width="1.4"/>
<text transform="translate(62.3,361.45) scale(0.74,1)" x="0" y="0" stroke="#d42440" stroke-width="0.2">19</text>
<circle cx="62" cy="404.8" r="7.9" fill="#fff" stroke="#d42440" stroke-width="1.4"/>
<text transform="translate(62.6,408.95) scale(0.78,1)" x="0" y="0" stroke="#d42440" stroke-width="0.2">20</text>
<circle cx="62" cy="428" r="7.9" fill="#fff" stroke="#d42440" stroke-width="1.4"/>
<text transform="translate(62.6,432.15) scale(0.78,1)" x="0" y="0" stroke="#d42440" stroke-width="0.2">23</text>
<circle cx="62" cy="452" r="7.9" fill="#fff" stroke="#d42440" stroke-width="1.4"/>
<text transform="translate(63.1,456.15) scale(0.9,1)" x="0" y="0" stroke="#d42440" stroke-width="0.2">24</text>
<circle cx="62" cy="500" r="7.9" fill="#fff" stroke="#d42440" stroke-width="1.4"/>
<text transform="translate(62.6,504.15) scale(0.78,1)" x="0" y="0" stroke="#d42440" stroke-width="0.2">32</text>
<circle cx="62" cy="523.5" r="7.9" fill="#fff" stroke="#d42440" stroke-width="1.4"/>
<text transform="translate(62.6,527.65) scale(0.78,1)" x="0" y="0" stroke="#d42440" stroke-width="0.2">33</text>
<circle cx="62" cy="570.8" r="7.9" fill="#fff" stroke="#d42440" stroke-width="1.4"/>
<text transform="translate(63.1,574.95) scale(0.9,1)" x="0" y="0" stroke="#d42440" stroke-width="0.2">34</text>
<circle cx="62" cy="618.6" r="7.9" fill="#fff" stroke="#d42440" stroke-width="1.4"/>
<text transform="translate(63.1,622.75) scale(0.9,1)" x="0" y="0" stroke="#d42440" stroke-width="0.2">44</text>
<circle cx="62" cy="642.3" r="7.9" fill="#fff" stroke="#d42440" stroke-width="1.4"/>
<text transform="translate(63.1,646.45) scale(0.9,1)" x="0" y="0" stroke="#d42440" stroke-width="0.2">45</text>
<circle cx="62" cy="666" r="7.9" fill="#fff" stroke="#d42440" stroke-width="1.4"/>
<text transform="translate(63.1,670.15) scale(0.9,1)" x="0" y="0" stroke="#d42440" stroke-width="0.2">46</text>
<circle cx="466" cy="166.7" r="7.9" fill="#fff" stroke="#d42440" stroke-width="1.4"/>
<text transform="translate(466.6,170.85) scale(0.78,1)" x="0" y="0" stroke="#d42440" stroke-width="0.2">09</text>
<circle cx="466" cy="238" r="7.9" fill="#fff" stroke="#d42440" stroke-width="1.4"/>
<text transform="translate(466.3,242.15) scale(0.74,1)" x="0" y="0" stroke="#d42440" stroke-width="0.2">10</text>
<circle cx="466" cy="261.7" r="7.9" fill="#fff" stroke="#d42440" stroke-width="1.4"/>
<text transform="translate(466.3,265.85) scale(0.74,1)" x="0" y="0" stroke="#d42440" stroke-width="0.2">11</text>
<circle cx="466" cy="285.3" r="7.9" fill="#fff" stroke="#d42440" stroke-width="1.4"/>
<text transform="translate(466.3,289.45) scale(0.74,1)" x="0" y="0" stroke="#d42440" stroke-width="0.2">12</text>
<circle cx="466" cy="308.7" r="7.9" fill="#fff" stroke="#d42440" stroke-width="1.4"/>
<text transform="translate(466.3,312.85) scale(0.74,1)" x="0" y="0" stroke="#d42440" stroke-width="0.2">13</text>
<circle cx="466" cy="404.7" r="7.9" fill="#fff" stroke="#d42440" stroke-width="1.4"/>
<text transform="translate(467.1,408.85) scale(0.9,1)" x="0" y="0" stroke="#d42440" stroke-width="0.2">14</text>
<circle cx="466" cy="428" r="7.9" fill="#fff" stroke="#d42440" stroke-width="1.4"/>
<text transform="translate(466.3,432.15) scale(0.74,1)" x="0" y="0" stroke="#d42440" stroke-width="0.2">15</text>
<circle cx="278.4" cy="489.4" r="7.9" fill="#fff" stroke="#d42440" stroke-width="1.4"/>
<text transform="translate(279.0,493.55) scale(0.78,1)" x="0" y="0" stroke="#d42440" stroke-width="0.2">35</text>
<circle cx="691.1" cy="275.7" r="7.9" fill="#fff" stroke="#d42440" stroke-width="1.4"/>
<text transform="translate(691.7,279.85) scale(0.78,1)" x="0" y="0" stroke="#d42440" stroke-width="0.2">36</text>
<circle cx="691.1" cy="299.3" r="7.9" fill="#fff" stroke="#d42440" stroke-width="1.4"/>
<text transform="translate(691.7,303.45) scale(0.78,1)" x="0" y="0" stroke="#d42440" stroke-width="0.2">37</text>
<circle cx="691.1" cy="323.3" r="7.9" fill="#fff" stroke="#d42440" stroke-width="1.4"/>
<text transform="translate(691.7,327.45) scale(0.78,1)" x="0" y="0" stroke="#d42440" stroke-width="0.2">38</text>
<circle cx="691.1" cy="346.7" r="7.9" fill="#fff" stroke="#d42440" stroke-width="1.4"/>
<text transform="translate(691.7,350.85) scale(0.78,1)" x="0" y="0" stroke="#d42440" stroke-width="0.2">39</text>
<circle cx="691.1" cy="370.7" r="7.9" fill="#fff" stroke="#d42440" stroke-width="1.4"/>
<text transform="translate(692.2,374.85) scale(0.9,1)" x="0" y="0" stroke="#d42440" stroke-width="0.2">40</text>
<circle cx="691.1" cy="537.3" r="7.9" fill="#fff" stroke="#d42440" stroke-width="1.4"/>
<text transform="translate(692.2,541.45) scale(0.9,1)" x="0" y="0" stroke="#d42440" stroke-width="0.2">41</text>
<circle cx="691.1" cy="561" r="7.9" fill="#fff" stroke="#d42440" stroke-width="1.4"/>
<text transform="translate(692.2,565.15) scale(0.9,1)" x="0" y="0" stroke="#d42440" stroke-width="0.2">42</text>
<circle cx="691.1" cy="585" r="7.9" fill="#fff" stroke="#d42440" stroke-width="1.4"/>
<text transform="translate(692.2,589.15) scale(0.9,1)" x="0" y="0" stroke="#d42440" stroke-width="0.2">43</text>
<circle cx="243.7" cy="660.5" r="7.9" fill="#fff" stroke="#d42440" stroke-width="1.4"/>
<text transform="translate(244.8,664.65) scale(0.9,1)" x="0" y="0" stroke="#d42440" stroke-width="0.2">48</text>
<circle cx="243.7" cy="700.3" r="7.9" fill="#fff" stroke="#d42440" stroke-width="1.4"/>
<text transform="translate(244.8,704.45) scale(0.9,1)" x="0" y="0" stroke="#d42440" stroke-width="0.2">47</text>
<circle cx="428" cy="727.6" r="7.9" fill="#fff" stroke="#d42440" stroke-width="1.4"/>
<text transform="translate(429.1,731.75) scale(0.9,1)" x="0" y="0" stroke="#d42440" stroke-width="0.2">49</text>
<circle cx="452" cy="727.6" r="7.9" fill="#fff" stroke="#d42440" stroke-width="1.4"/>
<text transform="translate(452.6,731.75) scale(0.78,1)" x="0" y="0" stroke="#d42440" stroke-width="0.2">50</text>
<circle cx="475.7" cy="727.6" r="7.9" fill="#fff" stroke="#d42440" stroke-width="1.4"/>
<text transform="translate(476.8,731.75) scale(0.9,1)" x="0" y="0" stroke="#d42440" stroke-width="0.2">48</text>
<circle cx="499.3" cy="727.6" r="7.9" fill="#fff" stroke="#d42440" stroke-width="1.4"/>
<text transform="translate(500.4,731.75) scale(0.9,1)" x="0" y="0" stroke="#d42440" stroke-width="0.2">47</text>
</g>
</svg>
</body>
</html>
